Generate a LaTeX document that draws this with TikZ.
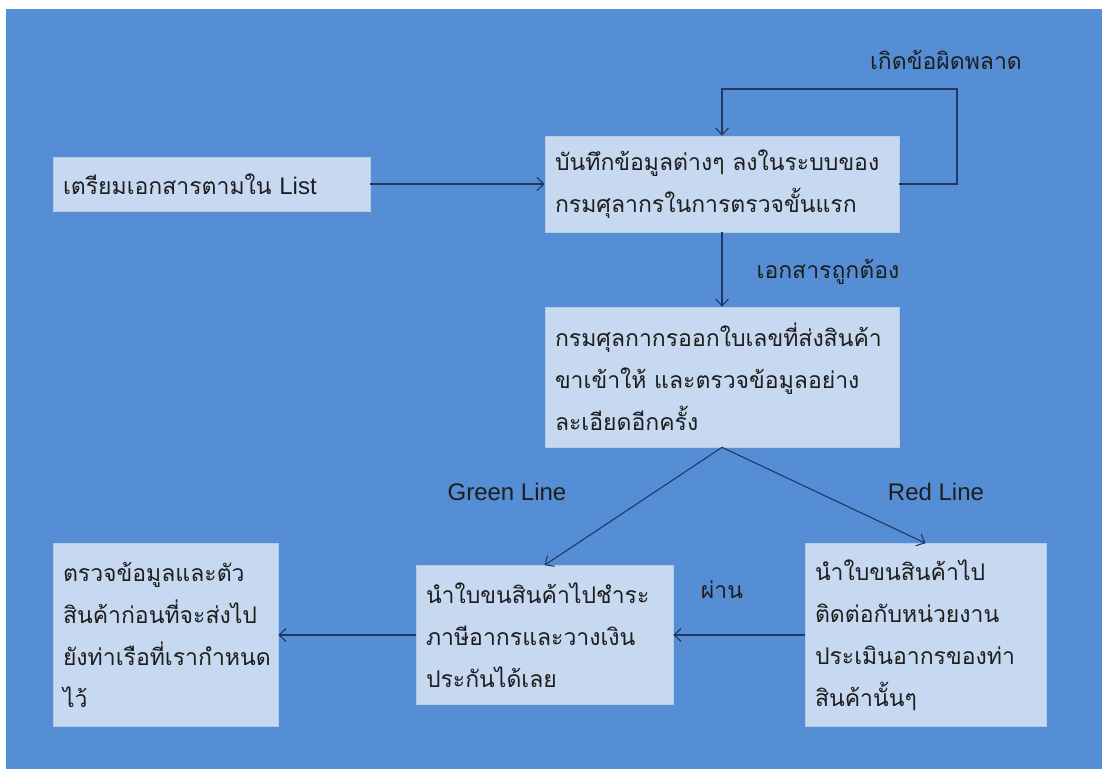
\documentclass[tikz,border=0pt]{standalone}
\usepackage{fontspec}
\setmainfont{Liberation Sans}
\newfontfamily\thai[Script=Thai]{Loma}
\usetikzlibrary{arrows.meta}
\definecolor{bg}{HTML}{558ED5}
\definecolor{boxfill}{HTML}{C6D9F1}
\definecolor{boxedge}{HTML}{B4CBE8}
\definecolor{arr}{HTML}{1F3864}
\definecolor{txt}{HTML}{1E1E1E}
\tikzset{
  box/.style={rectangle, fill=boxfill, draw=boxedge, line width=0.6pt,
    inner xsep=10pt, inner ysep=0pt, align=left, text=txt,
    font=\thai\fontsize{23}{42}\selectfont},
  conn/.style={draw=arr, line width=1.1pt, -{Straight Barb[length=7pt,width=13pt]}},
  lbl/.style={text=txt, font=\thai\fontsize{23}{26}\selectfont, inner sep=0pt},
  elbl/.style={text=txt, font=\fontsize{24}{28}\selectfont, inner sep=0pt}
}
\begin{document}
\begin{tikzpicture}[x=1pt,y=-1pt]
\useasboundingbox (0,0) rectangle (1102,769);
\fill[white] (0,0) rectangle (1102,769);
\fill[bg] (6,9) rectangle (1102,769);

\node[box, text width=297pt, minimum height=54pt] (b1) at (211.5,184)
  {เตรียมเอกสารตามใน {\rmfamily\fontsize{24}{42}\selectfont List}};
\node[box, text width=334pt, minimum height=96pt] (b2) at (722,184)
  {บันทึกข้อมูลต่างๆ ลงในระบบของ\\กรมศุลากรในการตรวจขั้นแรก};
\node[box, text width=334pt, minimum height=140pt] (b3) at (722,377)
  {กรมศุลกากรออกใบเลขที่ส่งสินค้า\\ขาเข้าให้ และตรวจข้อมูลอย่าง\\ละเอียดอีกครั้ง};
\node[box, text width=237pt, minimum height=139pt] (g) at (544.5,635)
  {นำใบขนสินค้าไปชำระ\\ภาษีอากรและวางเงิน\\ประกันได้เลย};
\node[box, text width=221pt, minimum height=183pt] (r) at (925.5,635)
  {นำใบขนสินค้าไป\\ติดต่อกับหน่วยงาน\\ประเมินอากรของท่า\\สินค้านั้นๆ};
\node[box, text width=205pt, minimum height=183pt] (b5) at (165.5,635)
  {ตรวจข้อมูลและตัว\\สินค้าก่อนที่จะส่งไป\\ยังท่าเรือที่เรากำหนด\\ไว้};

\node[lbl] (err) at (946,60) {เกิดข้อผิดพลาด};
\node[lbl] (ok) at (828,272) {เอกสารถูกต้อง};
\node[elbl] (gl) at (507,492) {Green Line};
\node[elbl] (rl) at (936,492) {Red Line};
\node[lbl] (pass) at (722,590) {ผ่าน};

\coordinate (lp) at (957,89);
\draw[conn] (b1) -- (b2);
\draw[conn] (b2.east) -| (lp) -| (b2.north);
\draw[conn] (b2) -- (b3);
\draw[conn] (b3.south) -- (g.north);
\draw[conn] (b3.south) -- (r.north);
\draw[conn] (r) -- (g);
\draw[conn] (g) -- (b5);
\end{tikzpicture}
\end{document}
